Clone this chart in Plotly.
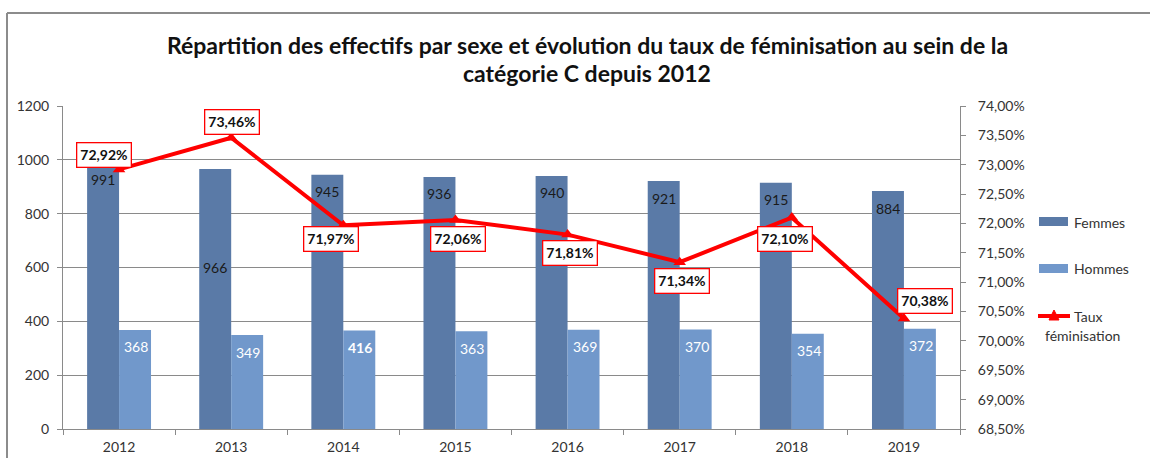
import plotly.graph_objects as go

years = ["2012", "2013", "2014", "2015", "2016", "2017", "2018", "2019"]
femmes = [991, 966, 945, 936, 940, 921, 915, 884]
hommes = [368, 349, 366, 363, 369, 370, 354, 372]
hommes_labels = ["368", "349", "416", "363", "369", "370", "354", "372"]
taux = [72.92, 73.46, 71.97, 72.06, 71.81, 71.34, 72.10, 70.38]
taux_labels = ["72,92%", "73,46%", "71,97%", "72,06%", "71,81%", "71,34%", "72,10%", "70,38%"]
left_ticks = [0, 200, 400, 600, 800, 1000, 1200]
right_ticks = [68.5, 69.0, 69.5, 70.0, 70.5, 71.0, 71.5, 72.0, 72.5, 73.0, 73.5, 74.0]
right_ticktext = ["68,50%", "69,00%", "69,50%", "70,00%", "70,50%", "71,00%", "71,50%",
                  "72,00%", "72,50%", "73,00%", "73,50%", "74,00%"]

# styling: offsets of labels (pixels)
femmes_label_dy = [-17, -99, -17, -16, -17, -17, -17, -17]
taux_label_off = [(-15, 14), (1, 16), (-12, -14), (3, -19), (2, -18), (2, -19), (-7, -21), (21, 18)]

C_F = "#5a7aa7"
C_H = "#7198cb"
GRID = "#8a8a8a"
FONT = "Lato"
TXT = "#333333"

W, H = 1150, 458
L, R, T, B = 63, 960, 106, 429

def px(x):
    return (x - L) / (R - L)

def py(y):
    return (B - y) / (B - T)

fig = go.Figure()
fig.add_trace(go.Bar(x=years, y=femmes, name="Femmes", marker=dict(color=C_F, line=dict(width=0)),
                     showlegend=False))
fig.add_trace(go.Bar(x=years, y=hommes, name="Hommes", marker=dict(color=C_H, line=dict(width=0)),
                     showlegend=False))
fig.add_trace(go.Scatter(x=years, y=taux, name="Taux féminisation", yaxis="y2", mode="lines+markers",
                         line=dict(color="#ff0000", width=4),
                         marker=dict(symbol="triangle-up", size=11, color="#ff0000"),
                         showlegend=False))

ann = []
for i, y in enumerate(years):
    ann.append(dict(x=i, y=femmes[i], xref="x", yref="y", text=str(femmes[i]), showarrow=False,
                    xshift=-16, yshift=femmes_label_dy[i], font=dict(family=FONT, size=14, color="#1a1a1a")))
    bold = hommes_labels[i] != str(hommes[i])
    txt = "<b>%s</b>" % hommes_labels[i] if bold else hommes_labels[i]
    ann.append(dict(x=i, y=hommes[i], xref="x", yref="y", text=txt, showarrow=False,
                    xshift=17, yshift=-17, font=dict(family=FONT, size=14, color="white")))
    dx, dy = taux_label_off[i]
    ann.append(dict(x=i, y=taux[i], xref="x", yref="y2", text="<b>%s</b>" % taux_labels[i], showarrow=False,
                    xshift=dx, yshift=dy, bgcolor="white", bordercolor="#ff0000", borderwidth=1.3,
                    borderpad=3, font=dict(family=FONT, size=14, color="#111111")))

# title
ann.append(dict(x=px(587), y=py(45), xref="paper", yref="paper", showarrow=False,
                xanchor="center", yanchor="middle",
                text="<b>Répartition des effectifs par sexe et évolution du taux de féminisation au sein de la</b>",
                font=dict(family=FONT, size=23, color="#111111")))
ann.append(dict(x=px(587), y=py(73), xref="paper", yref="paper", showarrow=False,
                xanchor="center", yanchor="middle",
                text="<b>catégorie C depuis 2012</b>",
                font=dict(family=FONT, size=23, color="#111111")))

# legend (manual)
shapes = []
shapes.append(dict(type="rect", xref="paper", yref="paper", x0=px(1039), x1=px(1068), y0=py(226), y1=py(217),
                   fillcolor=C_F, line=dict(width=0)))
shapes.append(dict(type="rect", xref="paper", yref="paper", x0=px(1039), x1=px(1068), y0=py(273), y1=py(264),
                   fillcolor=C_H, line=dict(width=0)))
shapes.append(dict(type="line", xref="paper", yref="paper", x0=px(1038), x1=px(1070), y0=py(316), y1=py(316),
                   line=dict(color="#ff0000", width=4)))
shapes.append(dict(type="path", xref="paper", yref="paper",
                   path="M %f %f L %f %f L %f %f Z" % (px(1049), py(320), px(1059), py(320), px(1054), py(310)),
                   fillcolor="#ff0000", line=dict(color="#ff0000", width=1)))
for txt, xx, yy in [("Femmes", 1072, 222), ("Hommes", 1072, 268), ("Taux", 1072, 316), ("féminisation", 1043, 335)]:
    ann.append(dict(x=px(xx), y=py(yy), xref="paper", yref="paper", xanchor="left", yanchor="middle",
                    showarrow=False, text=txt, font=dict(family=FONT, size=14, color=TXT)))

# outer frame
shapes.append(dict(type="line", xref="paper", yref="paper", x0=px(7), x1=px(1150), y0=py(13), y1=py(13),
                   line=dict(color="#8c8c8c", width=2)))
shapes.append(dict(type="line", xref="paper", yref="paper", x0=px(7), x1=px(7), y0=py(13), y1=py(460),
                   line=dict(color="#8c8c8c", width=2)))

fig.update_layout(
    width=W, height=H,
    margin=dict(l=L, r=W - R, t=T, b=H - B, pad=0),
    paper_bgcolor="white", plot_bgcolor="white",
    barmode="group", bargap=0.43, bargroupgap=0,
    annotations=ann, shapes=shapes,
    xaxis=dict(type="category", range=[-0.5, len(years) - 0.5], automargin=False,
               showline=True, linecolor=GRID, linewidth=1, tickangle=0, ticklabelstandoff=5,
               ticks="outside", tickson="boundaries", ticklen=5, tickcolor=GRID,
               tickfont=dict(family=FONT, size=14, color=TXT), showgrid=False),
    yaxis=dict(range=[0, 1200], tickvals=left_ticks, showline=True, linecolor=GRID, linewidth=1,
               automargin=False, ticklabelstandoff=5,
               ticks="outside", ticklen=5, tickcolor=GRID, showgrid=True, gridcolor=GRID, gridwidth=1,
               tickfont=dict(family=FONT, size=14, color=TXT), zeroline=False),
    yaxis2=dict(range=[68.5, 74.0], overlaying="y", side="right", tickvals=right_ticks,
                ticktext=right_ticktext, showline=True, linecolor=GRID, linewidth=1, automargin=False,
                ticklabelstandoff=9,
                ticks="outside", ticklen=5, tickcolor=GRID, showgrid=False, zeroline=False,
                tickfont=dict(family=FONT, size=14, color=TXT)),
)

fig.write_html("out.html", config={"displayModeBar": False},
               post_script="document.body.style.margin='0';document.body.style.overflow='hidden';")
